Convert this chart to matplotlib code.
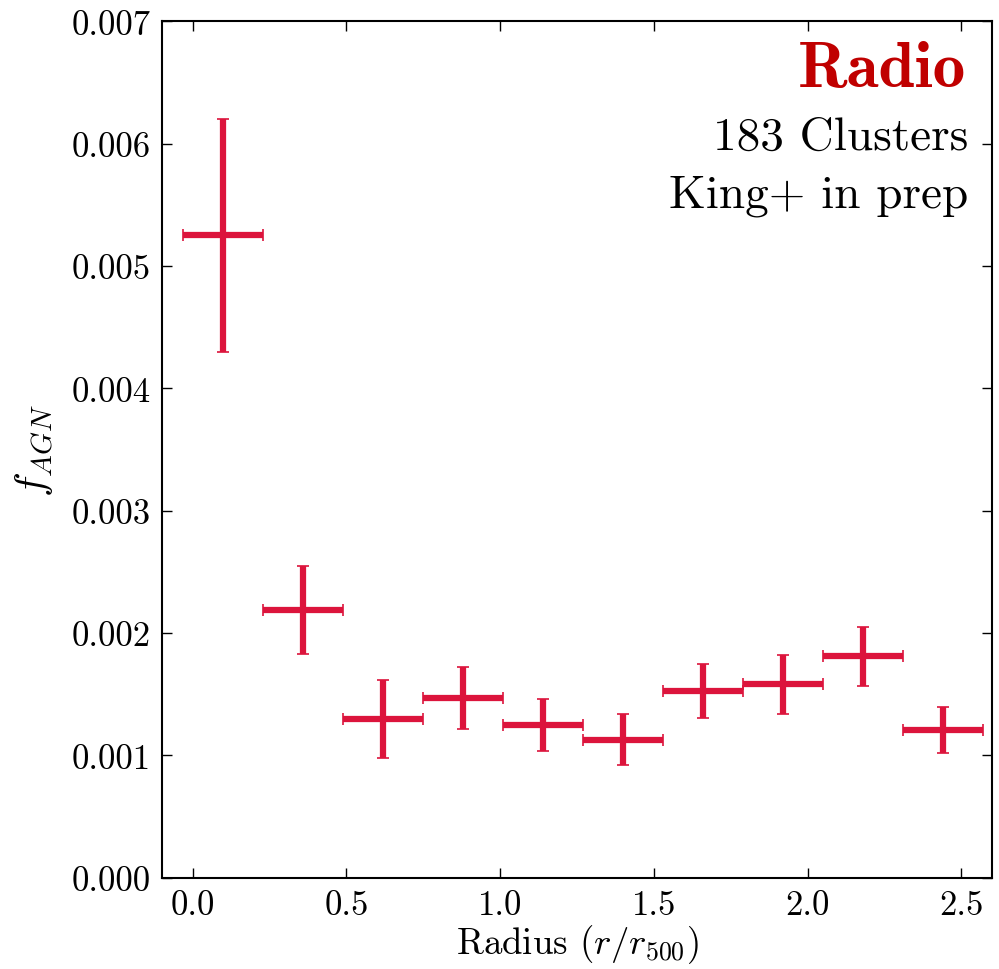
import matplotlib
matplotlib.use("Agg")
import matplotlib.pyplot as plt
import numpy as np

# radial AGN fraction, radio selected
radius = [0.10, 0.36, 0.62, 0.88, 1.14, 1.40, 1.66, 1.92, 2.18, 2.44]
bin_half = [0.13, 0.13, 0.13, 0.13, 0.13, 0.13, 0.13, 0.13, 0.13, 0.13]
f_agn = [0.00525, 0.00219, 0.00130, 0.00147, 0.00125, 0.00113, 0.00153, 0.00158, 0.00181, 0.00121]
f_err = [0.00095, 0.00036, 0.00032, 0.00025, 0.00021, 0.00021, 0.00022, 0.00024, 0.00024, 0.00019]

x_ticks = [0.0, 0.5, 1.0, 1.5, 2.0, 2.5]
y_ticks = [0.000, 0.001, 0.002, 0.003, 0.004, 0.005, 0.006, 0.007]

plt.rcParams["font.family"] = "cmr10"
plt.rcParams["mathtext.fontset"] = "cm"
plt.rcParams["axes.formatter.use_mathtext"] = True

fig = plt.figure(figsize=(9.99, 9.70), dpi=100)
ax = fig.add_axes([0.162, 0.094, 0.831, 0.883])

ax.errorbar(radius, f_agn, xerr=bin_half, yerr=f_err, fmt="none",
            ecolor="#dc143c", elinewidth=4.5, capsize=4.3, capthick=1.2)

ax.set_xlim(-0.1, 2.6)
ax.set_ylim(0, 0.007)
ax.set_xticks(x_ticks)
ax.set_yticks(y_ticks)
ax.set_xticklabels(["%.1f" % t for t in x_ticks])
ax.set_yticklabels(["%.3f" % t for t in y_ticks])
ax.tick_params(direction="in", top=True, right=True, length=7, width=1,
               labelsize=25, pad=8)
for s in ax.spines.values():
    s.set_linewidth(1.5)

ax.set_xlabel(r"Radius ($r/r_{500}$)", fontsize=26.5, labelpad=1)
ax.set_ylabel(r"$f_{AGN}$", fontsize=30, labelpad=12)

ax.text(0.969, 0.925, "Radio", transform=ax.transAxes, ha="right",
        va="baseline", fontsize=47, color="#c00000", family="cmb10")
ax.text(0.971, 0.851, "183 Clusters", transform=ax.transAxes, ha="right",
        va="baseline", fontsize=34)
ax.text(0.971, 0.784, "King+ in prep", transform=ax.transAxes, ha="right",
        va="baseline", fontsize=34)

fig.savefig("out.png", dpi=100)
